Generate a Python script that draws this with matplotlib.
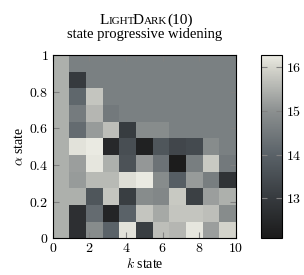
import numpy as np
import matplotlib
matplotlib.use("Agg")
import matplotlib.pyplot as plt
from matplotlib.colors import LinearSegmentedColormap
from matplotlib.ticker import FuncFormatter

plt.rcParams['font.family'] = ['Liberation Serif', 'DejaVu Serif']
plt.rcParams['mathtext.fontset'] = 'cm'

# ---- data (rows of the value grid, from alpha state 0 at bottom to top) ----
k_edges_count = 11      # k states (columns)
alpha_edges_count = 11  # alpha states (rows)
U = 14.65
L = 15.45
row_00 = [L, 12.7, 14.9, 14.0, 16.15, 13.1, 15.65, 15.55, 16.2, 15.2, 15.95]
row_01 = [L, 12.7, 14.2, 12.4, 14.0, 15.75, 15.35, 15.75, 15.75, 15.65, 14.9]
row_02 = [L, 15.45, 13.7, 15.75, 13.1, 14.9, 14.8, 15.8, 13.15, 15.2, 15.45]
row_03 = [L, 15.15, 15.6, 15.6, 16.1, 16.25, 14.9, 13.9, 15.15, 14.6, 12.8]
row_04 = [L, 15.2, 16.2, 15.45, 13.6, 15.1, 14.35, 12.15, 14.6, 15.8, 14.5]
row_05 = [L, 16.15, 16.25, 12.5, 13.5, 12.3, 13.7, 13.3, 13.4, 14.9, U]
row_06 = [L, 14.2, 15.15, 15.65, 13.05, 14.9, 14.9, U, U, U, U]
row_07 = [L, 14.55, 15.55, 14.5, U, U, U, U, U, U, U]
row_08 = [L, 14.1, 15.75, U, U, U, U, U, U, U, U]
row_09 = [L, 13.0, U, U, U, U, U, U, U, U, U]
row_10 = [L, U, U, U, U, U, U, U, U, U, U]

x_ticks = [0, 2, 4, 6, 8, 10]
y_ticks = [0, 0.2, 0.4, 0.6, 0.8, 1]
cbar_ticks = [13, 14, 15, 16]
vmin, vmax = 12.09, 16.27

values = np.array([row_00, row_01, row_02, row_03, row_04, row_05,
                   row_06, row_07, row_08, row_09, row_10])

# ---- colormap ----
stops = [
    (0.0, '#1a1a1a'),
    ((13 - vmin) / (vmax - vmin), '#363a3e'),
    ((14 - vmin) / (vmax - vmin), '#5a6268'),
    ((15 - vmin) / (vmax - vmin), '#8c9090'),
    ((16 - vmin) / (vmax - vmin), '#d6d6ce'),
    (1.0, '#ebebe3'),
]
cmap = LinearSegmentedColormap.from_list('ld', stops)

W, H = 304, 275
fig = plt.figure(figsize=(W / 100, H / 100), dpi=100)
ax = fig.add_axes([52.7 / W, 1 - 238.3 / H, 183.3 / W, 183.3 / H])

xe = np.linspace(0, 10, k_edges_count + 1)
ye = np.linspace(0, 1, alpha_edges_count + 1)
mesh = ax.pcolormesh(xe, ye, values, cmap=cmap, vmin=vmin, vmax=vmax,
                     shading='flat', edgecolors='none')
ax.set_xlim(0, 10)
ax.set_ylim(0, 1)
ax.set_xticks(x_ticks)
ax.set_yticks(y_ticks)
fmt = FuncFormatter(lambda v, p: f"${v:g}$")
ax.xaxis.set_major_formatter(fmt)
ax.yaxis.set_major_formatter(fmt)
ax.tick_params(direction='in', length=4, color='#808080', labelsize=10,
               top=True, right=True, pad=3)
for s in ax.spines.values():
    s.set_linewidth(0.8)
ax.set_xlabel(r"$k$ state", fontsize=10, labelpad=1)
ax.set_ylabel(r"$\alpha$ state", fontsize=10, labelpad=2)

cax = fig.add_axes([260.7 / W, 1 - 238.3 / H, 21 / W, 183.3 / H])
cb = fig.colorbar(mesh, cax=cax)
cb.set_ticks(cbar_ticks)
cb.ax.yaxis.set_major_formatter(fmt)
cb.ax.tick_params(direction='in', length=4, color='#808080', labelsize=10,
                  left=True, right=True, pad=3)
cb.outline.set_linewidth(0.8)

# title: small caps LightDark(10), laid out piece by piece
parts = [("L", 11), ("IGHT", 8), ("D", 11), ("ARK", 8), ("(10)", 11)]
kerns = [0.0, -2.0, 0.0, 0.0, 0.0]
fig.canvas.draw()
renderer = fig.canvas.get_renderer()
texts = []
widths = []
for (s, sz), kn in zip(parts, kerns):
    t = fig.text(0, 1 - 24 / H, s, fontsize=sz, ha='left', va='baseline')
    bb = t.get_window_extent(renderer=renderer)
    texts.append(t)
    widths.append(bb.width + kn)
total = sum(widths)
x0 = 146 - total / 2
for t, w in zip(texts, widths):
    t.set_x(x0 / W)
    x0 += w
fig.text(144.5 / W, 1 - 35 / H, "state progressive widening",
         ha='center', va='center', fontsize=10.5)

fig.savefig("out.png", dpi=100)
